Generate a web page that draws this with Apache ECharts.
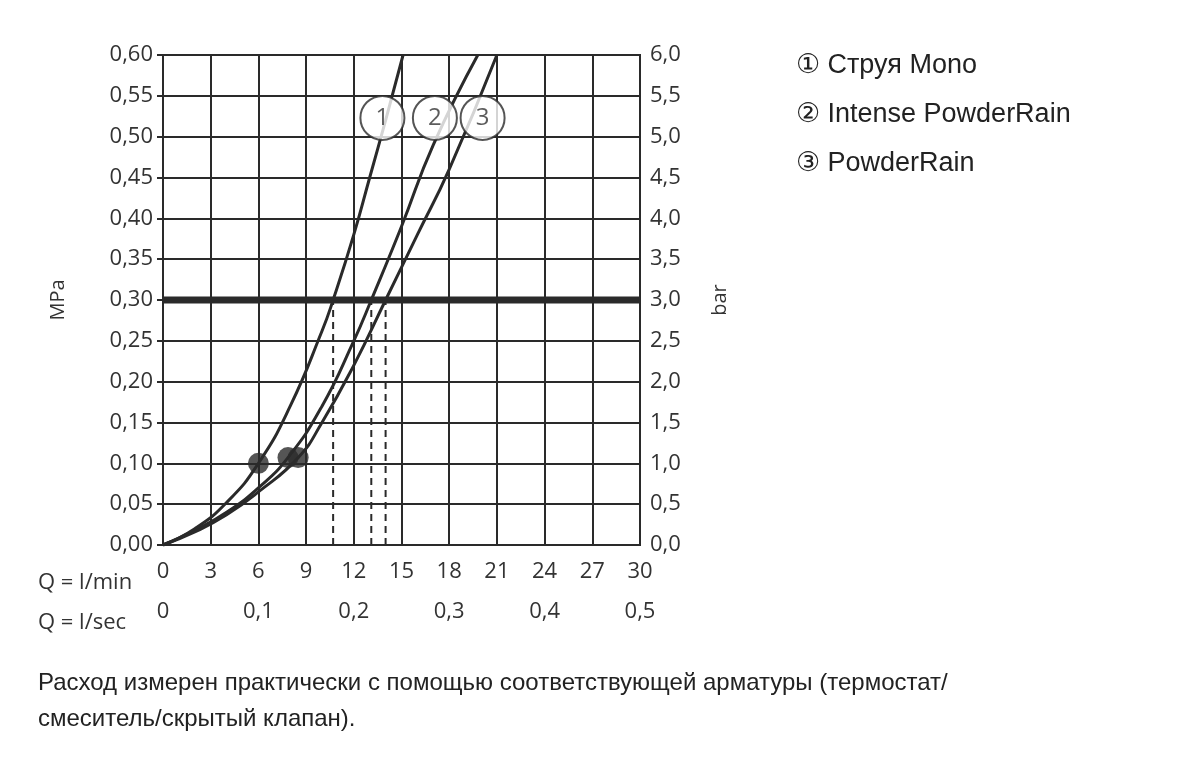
<!DOCTYPE html>
<html><head><meta charset="utf-8">
<script src="https://cdn.jsdelivr.net/npm/echarts@6/dist/echarts.min.js"></script>
<style>html,body{margin:0;background:#fff}#c{width:1200px;height:765px}</style></head>
<body><div id="c"></div>
<script>
const lminTicks=[0,3,6,9,12,15,18,21,24,27,30];
const lsecTicks=[0,0.1,0.2,0.3,0.4,0.5];
const curve1=[[0,0],[2,0.02],[4,0.052],[6,0.10],[8,0.17],[10,0.262],[10.7,0.30],[12,0.38],[13,0.45],[14,0.52],[15.1,0.60]];
const curve2=[[0,0],[2,0.018],[4,0.04],[6,0.07],[7.86,0.107],[10,0.17],[12,0.25],[13.1,0.30],[15,0.39],[17,0.49],[19.8,0.60]];
const curve3=[[0,0],[2,0.016],[4,0.037],[6,0.065],[8.5,0.107],[10,0.15],[12,0.22],[14,0.30],[16,0.38],[18,0.46],[21,0.60]];
const dots=[[6,0.10],[7.86,0.107],[8.5,0.107]];
const dashX=[10.7,13.1,14.0];
const refP=0.30;
const labels=[[13.8,0.523,'1'],[17.1,0.523,'2'],[20.1,0.523,'3']];
const legend=['① Струя Mono','② Intense PowderRain','③ PowderRain'];
const note='Расход измерен практически с помощью соответствующей арматуры (термостат/\nсмеситель/скрытый клапан).';
const C='#2a2a2a', F='Open Sans';
const fmt=(v,d)=>v.toFixed(d).replace('.',',');
const ch=echarts.init(document.getElementById('c'));
const lineS=(d)=>({type:'line',data:d,smooth:true,symbol:'none',lineStyle:{color:C,width:3},z:3});
ch.setOption({
 animation:false,
 grid:{left:163,right:560,top:55,bottom:220,show:true,borderColor:C,borderWidth:2},
 xAxis:[
  {type:'value',min:0,max:30,interval:3,position:'bottom',
   axisLine:{lineStyle:{color:C,width:2}},axisTick:{show:false},
   axisLabel:{color:'#333',fontSize:22,fontFamily:F,margin:16},
   splitLine:{lineStyle:{color:C,width:2}}},
  {type:'value',min:0,max:0.5,interval:0.1,position:'bottom',offset:40,
   axisLine:{show:false},axisTick:{show:false},splitLine:{show:false},
   axisLabel:{color:'#333',fontSize:22,fontFamily:F,margin:16,formatter:v=>v===0?'0':fmt(v,1)}}
 ],
 yAxis:[
  {type:'value',min:0,max:0.6,interval:0.05,
   axisLine:{lineStyle:{color:C,width:2}},axisTick:{show:true,length:6,lineStyle:{color:C,width:2}},
   axisLabel:{color:'#333',fontSize:22,fontFamily:F,margin:10,formatter:v=>fmt(v,2)},
   splitLine:{lineStyle:{color:C,width:2}},
   name:'MPa',nameLocation:'middle',nameGap:95,nameRotate:90,nameTextStyle:{color:'#333',fontSize:20,fontFamily:F}},
  {type:'value',min:0,max:6,interval:0.5,position:'right',
   axisLine:{show:true,lineStyle:{color:C,width:2}},axisTick:{show:true,length:6,lineStyle:{color:C,width:2}},
   axisLabel:{color:'#333',fontSize:22,fontFamily:F,margin:10,formatter:v=>fmt(v,1)},splitLine:{show:false},
   name:'bar',nameLocation:'middle',nameGap:70,nameRotate:90,nameTextStyle:{color:'#333',fontSize:20,fontFamily:F}}
 ],
 series:[
  lineS(curve1),lineS(curve2),lineS(curve3),
  {type:'line',data:[[0,refP],[30,refP]],symbol:'none',lineStyle:{color:C,width:7},z:4},
  ...dashX.map(x=>({type:'line',data:[[x,0],[x,refP]],symbol:'none',lineStyle:{color:C,width:2,type:[7,5]},z:2})),
  {type:'scatter',data:dots,symbolSize:21,itemStyle:{color:C},z:5},
  {type:'scatter',data:labels.map(l=>[l[0],l[1]]),symbolSize:44,z:6,
   itemStyle:{color:'#fff',borderColor:C,borderWidth:2},
   label:{show:true,position:'inside',formatter:p=>labels[p.dataIndex][2],color:'#333',fontSize:24,fontFamily:F}}
 ],
 graphic:[
  {type:'text',left:38,top:572,style:{text:'Q = l/min',fill:'#333',fontSize:22,fontFamily:F}},
  {type:'text',left:38,top:612,style:{text:'Q = l/sec',fill:'#333',fontSize:22,fontFamily:F}},
  ...legend.map((t,i)=>({type:'text',left:796,top:52+i*49,style:{text:t,fill:'#222',fontSize:27,fontFamily:'Liberation Sans'}})),
  {type:'text',left:38,top:665,style:{text:note,fill:'#222',fontSize:24,fontFamily:'Liberation Sans',lineHeight:36}}
 ]
});
</script></body></html>
